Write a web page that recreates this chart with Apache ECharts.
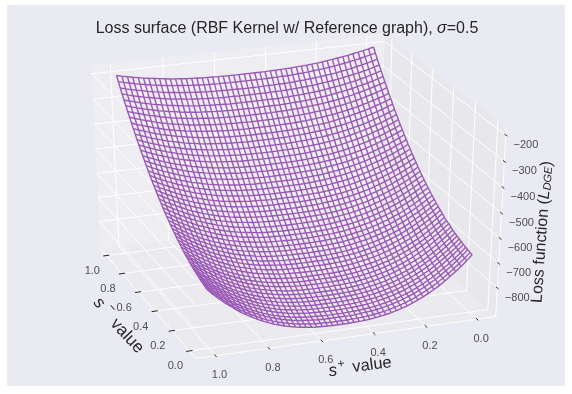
<!DOCTYPE html>
<html>
<head>
<meta charset="utf-8">
<style>html,body{margin:0;padding:0;background:#fff}#chart{width:572px;height:394px}</style>
<script src="https://cdn.jsdelivr.net/npm/echarts@6/dist/echarts.min.js"></script>
</head>
<body>
<div id="chart"></div>
<script>
// both s- and s+ run over this grid
const sGrid = [0, 0.02, 0.041, 0.061, 0.082, 0.102, 0.122, 0.143, 0.163, 0.184, 0.204, 0.224, 0.245, 0.265, 0.286, 0.306, 0.327, 0.347, 0.367, 0.388, 0.408, 0.429, 0.449, 0.469, 0.49, 0.51, 0.531, 0.551, 0.571, 0.592, 0.612, 0.633, 0.653, 0.673, 0.694, 0.714, 0.735, 0.755, 0.776, 0.796, 0.816, 0.837, 0.857, 0.878, 0.898, 0.918, 0.939, 0.959, 0.98, 1];
// one row per s- value, one column per s+ value
const loss = [
[-683,-704,-724,-742,-759,-775,-790,-804,-816,-828,-838,-847,-856,-863,-870,-875,-880,-884,-887,-890,-892,-893,-894,-895,-895,-895,-895,-894,-893,-892,-890,-887,-884,-880,-875,-870,-863,-856,-847,-838,-828,-816,-804,-790,-775,-759,-742,-724,-704,-683],
[-681,-702,-721,-739,-756,-772,-786,-800,-812,-823,-834,-843,-851,-858,-865,-870,-875,-879,-882,-885,-887,-888,-889,-890,-890,-890,-890,-889,-888,-887,-885,-882,-879,-875,-870,-865,-858,-851,-843,-834,-823,-812,-800,-786,-772,-756,-739,-721,-702,-681],
[-678,-698,-717,-735,-752,-767,-782,-795,-807,-818,-828,-837,-845,-852,-859,-864,-869,-873,-876,-878,-880,-882,-883,-883,-883,-883,-883,-883,-882,-880,-878,-876,-873,-869,-864,-859,-852,-845,-837,-828,-818,-807,-795,-782,-767,-752,-735,-717,-698,-678],
[-676,-696,-715,-732,-749,-764,-778,-791,-803,-814,-824,-833,-841,-848,-854,-859,-864,-868,-871,-873,-875,-876,-877,-878,-878,-878,-878,-877,-876,-875,-873,-871,-868,-864,-859,-854,-848,-841,-833,-824,-814,-803,-791,-778,-764,-749,-732,-715,-696,-676],
[-672,-692,-710,-727,-744,-759,-772,-785,-797,-808,-817,-826,-834,-841,-847,-852,-857,-861,-864,-866,-868,-869,-870,-871,-871,-871,-871,-870,-869,-868,-866,-864,-861,-857,-852,-847,-841,-834,-826,-817,-808,-797,-785,-772,-759,-744,-727,-710,-692,-672],
[-669,-688,-707,-723,-739,-754,-768,-780,-792,-802,-812,-820,-828,-835,-841,-846,-851,-854,-857,-860,-862,-863,-864,-864,-865,-865,-864,-864,-863,-862,-860,-857,-854,-851,-846,-841,-835,-828,-820,-812,-802,-792,-780,-768,-754,-739,-723,-707,-688,-669],
[-665,-684,-702,-719,-734,-749,-762,-774,-786,-796,-805,-814,-822,-828,-834,-839,-844,-847,-850,-853,-854,-856,-857,-857,-857,-857,-857,-857,-856,-854,-853,-850,-847,-844,-839,-834,-828,-822,-814,-805,-796,-786,-774,-762,-749,-734,-719,-702,-684,-665],
[-661,-680,-697,-714,-729,-743,-756,-768,-780,-790,-799,-807,-815,-821,-827,-832,-837,-840,-843,-845,-847,-848,-849,-850,-850,-850,-850,-849,-848,-847,-845,-843,-840,-837,-832,-827,-821,-815,-807,-799,-790,-780,-768,-756,-743,-729,-714,-697,-680,-661],
[-657,-675,-693,-709,-724,-738,-751,-763,-774,-784,-793,-801,-808,-815,-820,-825,-829,-833,-836,-838,-840,-841,-842,-842,-843,-843,-842,-842,-841,-840,-838,-836,-833,-829,-825,-820,-815,-808,-801,-793,-784,-774,-763,-751,-738,-724,-709,-693,-675,-657],
[-652,-670,-687,-703,-718,-731,-744,-756,-766,-776,-785,-793,-800,-807,-812,-817,-821,-825,-828,-830,-832,-833,-834,-834,-834,-834,-834,-834,-833,-832,-830,-828,-825,-821,-817,-812,-807,-800,-793,-785,-776,-766,-756,-744,-731,-718,-703,-687,-670,-652],
[-647,-665,-681,-697,-711,-725,-737,-749,-759,-769,-778,-786,-793,-799,-804,-809,-813,-817,-820,-822,-823,-825,-825,-826,-826,-826,-826,-825,-825,-823,-822,-820,-817,-813,-809,-804,-799,-793,-786,-778,-769,-759,-749,-737,-725,-711,-697,-681,-665,-647],
[-641,-658,-675,-690,-704,-717,-730,-741,-751,-761,-769,-777,-784,-790,-796,-800,-804,-808,-810,-812,-814,-815,-816,-816,-817,-817,-816,-816,-815,-814,-812,-810,-808,-804,-800,-796,-790,-784,-777,-769,-761,-751,-741,-730,-717,-704,-690,-675,-658,-641],
[-636,-653,-669,-684,-698,-711,-723,-734,-744,-753,-762,-770,-776,-782,-788,-792,-796,-799,-802,-804,-806,-807,-808,-808,-808,-808,-808,-808,-807,-806,-804,-802,-799,-796,-792,-788,-782,-776,-770,-762,-753,-744,-734,-723,-711,-698,-684,-669,-653,-636],
[-630,-647,-662,-677,-691,-704,-715,-726,-736,-745,-754,-761,-768,-774,-779,-783,-787,-790,-793,-795,-797,-798,-799,-799,-799,-799,-799,-799,-798,-797,-795,-793,-790,-787,-783,-779,-774,-768,-761,-754,-745,-736,-726,-715,-704,-691,-677,-662,-647,-630],
[-623,-639,-655,-669,-683,-695,-707,-717,-727,-736,-744,-751,-758,-764,-769,-773,-777,-780,-783,-785,-786,-787,-788,-789,-789,-789,-789,-788,-787,-786,-785,-783,-780,-777,-773,-769,-764,-758,-751,-744,-736,-727,-717,-707,-695,-683,-669,-655,-639,-623],
[-616,-632,-647,-661,-674,-687,-698,-708,-718,-727,-735,-742,-748,-754,-759,-763,-767,-770,-773,-775,-776,-777,-778,-778,-778,-778,-778,-778,-777,-776,-775,-773,-770,-767,-763,-759,-754,-748,-742,-735,-727,-718,-708,-698,-687,-674,-661,-647,-632,-616],
[-609,-625,-640,-653,-666,-678,-689,-700,-709,-717,-725,-732,-739,-744,-749,-753,-757,-760,-762,-764,-766,-767,-768,-768,-768,-768,-768,-768,-767,-766,-764,-762,-760,-757,-753,-749,-744,-739,-732,-725,-717,-709,-700,-689,-678,-666,-653,-640,-625,-609],
[-602,-617,-632,-645,-658,-670,-681,-691,-700,-708,-716,-723,-729,-734,-739,-743,-747,-750,-752,-754,-756,-757,-758,-758,-758,-758,-758,-758,-757,-756,-754,-752,-750,-747,-743,-739,-734,-729,-723,-716,-708,-700,-691,-681,-670,-658,-645,-632,-617,-602],
[-594,-609,-623,-637,-649,-660,-671,-681,-690,-698,-705,-712,-718,-724,-728,-732,-736,-739,-741,-743,-744,-745,-746,-746,-747,-747,-746,-746,-745,-744,-743,-741,-739,-736,-732,-728,-724,-718,-712,-705,-698,-690,-681,-671,-660,-649,-637,-623,-609,-594],
[-586,-601,-615,-628,-640,-651,-661,-671,-680,-688,-695,-702,-708,-713,-717,-721,-725,-728,-730,-732,-733,-735,-735,-735,-735,-735,-735,-735,-735,-733,-732,-730,-728,-725,-721,-717,-713,-708,-702,-695,-688,-680,-671,-661,-651,-640,-628,-615,-601,-586],
[-578,-592,-606,-619,-631,-642,-652,-661,-670,-677,-685,-691,-697,-702,-706,-710,-714,-716,-719,-720,-722,-723,-723,-724,-724,-724,-724,-723,-723,-722,-720,-719,-716,-714,-710,-706,-702,-697,-691,-685,-677,-670,-661,-652,-642,-631,-619,-606,-592,-578],
[-569,-583,-596,-609,-620,-631,-641,-650,-659,-666,-673,-680,-685,-690,-695,-698,-702,-704,-706,-708,-709,-710,-711,-712,-712,-712,-712,-711,-710,-709,-708,-706,-704,-702,-698,-695,-690,-685,-680,-673,-666,-659,-650,-641,-631,-620,-609,-596,-583,-569],
[-560,-574,-587,-599,-610,-621,-630,-639,-647,-655,-662,-668,-673,-678,-683,-686,-689,-692,-694,-696,-697,-698,-699,-699,-699,-699,-699,-699,-698,-697,-696,-694,-692,-689,-686,-683,-678,-673,-668,-662,-655,-647,-639,-630,-621,-610,-599,-587,-574,-560],
[-551,-564,-577,-589,-600,-610,-620,-628,-636,-644,-650,-656,-662,-666,-671,-674,-677,-680,-682,-684,-685,-686,-687,-687,-687,-687,-687,-687,-686,-685,-684,-682,-680,-677,-674,-671,-666,-662,-656,-650,-644,-636,-628,-620,-610,-600,-589,-577,-564,-551],
[-541,-554,-566,-578,-589,-599,-608,-616,-624,-631,-638,-644,-649,-654,-658,-661,-664,-667,-669,-670,-672,-673,-673,-674,-674,-674,-674,-673,-673,-672,-670,-669,-667,-664,-661,-658,-654,-649,-644,-638,-631,-624,-616,-608,-599,-589,-578,-566,-554,-541],
[-531,-544,-556,-567,-578,-587,-596,-605,-612,-619,-626,-631,-636,-641,-645,-648,-651,-654,-655,-657,-658,-659,-660,-660,-660,-660,-660,-660,-659,-658,-657,-655,-654,-651,-648,-645,-641,-636,-631,-626,-619,-612,-605,-596,-587,-578,-567,-556,-544,-531],
[-521,-534,-545,-556,-566,-576,-585,-593,-600,-607,-613,-619,-624,-628,-632,-635,-638,-640,-642,-644,-645,-646,-647,-647,-647,-647,-647,-647,-646,-645,-644,-642,-640,-638,-635,-632,-628,-624,-619,-613,-607,-600,-593,-585,-576,-566,-556,-545,-534,-521],
[-510,-522,-534,-544,-554,-563,-572,-580,-587,-594,-600,-605,-610,-614,-618,-621,-624,-626,-628,-630,-631,-632,-632,-633,-633,-633,-633,-632,-632,-631,-630,-628,-626,-624,-621,-618,-614,-610,-605,-600,-594,-587,-580,-572,-563,-554,-544,-534,-522,-510],
[-499,-511,-522,-532,-542,-551,-559,-567,-574,-580,-586,-592,-596,-600,-604,-607,-610,-612,-614,-616,-617,-618,-618,-618,-618,-618,-618,-618,-618,-617,-616,-614,-612,-610,-607,-604,-600,-596,-592,-586,-580,-574,-567,-559,-551,-542,-532,-522,-511,-499],
[-488,-500,-510,-520,-530,-539,-547,-554,-561,-567,-573,-578,-583,-587,-590,-593,-596,-598,-600,-601,-602,-603,-604,-604,-604,-604,-604,-604,-603,-602,-601,-600,-598,-596,-593,-590,-587,-583,-578,-573,-567,-561,-554,-547,-539,-530,-520,-510,-500,-488],
[-476,-487,-498,-507,-517,-525,-533,-540,-547,-553,-558,-563,-568,-572,-575,-578,-581,-583,-585,-586,-587,-588,-589,-589,-589,-589,-589,-589,-588,-587,-586,-585,-583,-581,-578,-575,-572,-568,-563,-558,-553,-547,-540,-533,-525,-517,-507,-498,-487,-476],
[-464,-475,-485,-495,-503,-512,-519,-526,-533,-539,-544,-549,-553,-557,-560,-563,-566,-568,-569,-571,-572,-573,-573,-573,-574,-574,-573,-573,-573,-572,-571,-569,-568,-566,-563,-560,-557,-553,-549,-544,-539,-533,-526,-519,-512,-503,-495,-485,-475,-464],
[-452,-463,-472,-482,-490,-498,-506,-512,-519,-524,-530,-534,-538,-542,-545,-548,-551,-553,-554,-556,-557,-557,-558,-558,-558,-558,-558,-558,-557,-557,-556,-554,-553,-551,-548,-545,-542,-538,-534,-530,-524,-519,-512,-506,-498,-490,-482,-472,-463,-452],
[-439,-449,-459,-468,-476,-484,-491,-498,-504,-509,-514,-519,-523,-526,-529,-532,-535,-537,-538,-539,-540,-541,-542,-542,-542,-542,-542,-542,-541,-540,-539,-538,-537,-535,-532,-529,-526,-523,-519,-514,-509,-504,-498,-491,-484,-476,-468,-459,-449,-439],
[-426,-436,-445,-454,-462,-469,-476,-483,-489,-494,-499,-503,-507,-511,-514,-516,-518,-520,-522,-523,-524,-525,-525,-526,-526,-526,-526,-525,-525,-524,-523,-522,-520,-518,-516,-514,-511,-507,-503,-499,-494,-489,-483,-476,-469,-462,-454,-445,-436,-426],
[-413,-423,-431,-440,-448,-455,-462,-468,-473,-479,-483,-488,-491,-495,-498,-500,-503,-504,-506,-507,-508,-509,-509,-509,-509,-509,-509,-509,-509,-508,-507,-506,-504,-503,-500,-498,-495,-491,-488,-483,-479,-473,-468,-462,-455,-448,-440,-431,-423,-413],
[-399,-408,-417,-425,-432,-439,-446,-452,-457,-462,-467,-471,-475,-478,-481,-483,-485,-487,-489,-490,-491,-491,-492,-492,-492,-492,-492,-492,-491,-491,-490,-489,-487,-485,-483,-481,-478,-475,-471,-467,-462,-457,-452,-446,-439,-432,-425,-417,-408,-399],
[-385,-394,-402,-410,-417,-424,-430,-436,-441,-446,-451,-454,-458,-461,-464,-466,-468,-470,-471,-473,-473,-474,-474,-475,-475,-475,-475,-474,-474,-473,-473,-471,-470,-468,-466,-464,-461,-458,-454,-451,-446,-441,-436,-430,-424,-417,-410,-402,-394,-385],
[-371,-380,-388,-395,-402,-409,-415,-420,-425,-430,-434,-438,-441,-444,-447,-449,-451,-453,-454,-455,-456,-457,-457,-457,-457,-457,-457,-457,-457,-456,-455,-454,-453,-451,-449,-447,-444,-441,-438,-434,-430,-425,-420,-415,-409,-402,-395,-388,-380,-371],
[-356,-364,-372,-379,-386,-392,-398,-403,-408,-413,-417,-420,-424,-427,-429,-431,-433,-435,-436,-437,-438,-439,-439,-439,-439,-439,-439,-439,-439,-438,-437,-436,-435,-433,-431,-429,-427,-424,-420,-417,-413,-408,-403,-398,-392,-386,-379,-372,-364,-356],
[-341,-349,-356,-363,-370,-376,-381,-386,-391,-395,-399,-403,-406,-409,-411,-413,-415,-417,-418,-419,-420,-420,-421,-421,-421,-421,-421,-421,-420,-420,-419,-418,-417,-415,-413,-411,-409,-406,-403,-399,-395,-391,-386,-381,-376,-370,-363,-356,-349,-341],
[-326,-334,-341,-347,-354,-359,-365,-370,-374,-378,-382,-385,-388,-391,-393,-395,-397,-398,-400,-401,-401,-402,-402,-402,-402,-402,-402,-402,-402,-401,-401,-400,-398,-397,-395,-393,-391,-388,-385,-382,-378,-374,-370,-365,-359,-354,-347,-341,-334,-326],
[-310,-317,-324,-330,-336,-342,-347,-352,-356,-360,-363,-367,-370,-372,-374,-376,-378,-379,-380,-381,-382,-382,-383,-383,-383,-383,-383,-383,-382,-382,-381,-380,-379,-378,-376,-374,-372,-370,-367,-363,-360,-356,-352,-347,-342,-336,-330,-324,-317,-310],
[-294,-301,-307,-313,-319,-324,-329,-334,-338,-342,-345,-348,-351,-353,-355,-357,-359,-360,-361,-362,-363,-363,-364,-364,-364,-364,-364,-364,-363,-363,-362,-361,-360,-359,-357,-355,-353,-351,-348,-345,-342,-338,-334,-329,-324,-319,-313,-307,-301,-294],
[-278,-285,-291,-297,-302,-307,-312,-316,-320,-323,-327,-330,-332,-335,-337,-338,-340,-341,-342,-343,-344,-344,-344,-344,-345,-345,-344,-344,-344,-344,-343,-342,-341,-340,-338,-337,-335,-332,-330,-327,-323,-320,-316,-312,-307,-302,-297,-291,-285,-278],
[-262,-268,-274,-280,-285,-290,-294,-298,-302,-305,-308,-311,-314,-316,-318,-319,-321,-322,-323,-324,-325,-325,-325,-325,-325,-325,-325,-325,-325,-325,-324,-323,-322,-321,-319,-318,-316,-314,-311,-308,-305,-302,-298,-294,-290,-285,-280,-274,-268,-262],
[-245,-251,-257,-262,-267,-271,-275,-279,-283,-286,-289,-291,-294,-296,-298,-299,-301,-302,-303,-304,-304,-304,-305,-305,-305,-305,-305,-305,-304,-304,-304,-303,-302,-301,-299,-298,-296,-294,-291,-289,-286,-283,-279,-275,-271,-267,-262,-257,-251,-245],
[-228,-234,-239,-244,-248,-253,-257,-260,-264,-267,-269,-272,-274,-276,-278,-279,-281,-282,-283,-283,-284,-284,-284,-285,-285,-285,-285,-284,-284,-284,-283,-283,-282,-281,-279,-278,-276,-274,-272,-269,-267,-264,-260,-257,-253,-248,-244,-239,-234,-228],
[-210,-215,-220,-225,-229,-233,-237,-240,-244,-246,-249,-251,-253,-255,-257,-258,-260,-261,-261,-262,-262,-263,-263,-263,-263,-263,-263,-263,-263,-262,-262,-261,-261,-260,-258,-257,-255,-253,-251,-249,-246,-244,-240,-237,-233,-229,-225,-220,-215,-210],
[-192,-197,-202,-206,-210,-214,-217,-220,-223,-226,-229,-231,-233,-235,-236,-237,-239,-239,-240,-241,-241,-242,-242,-242,-242,-242,-242,-242,-242,-241,-241,-240,-239,-239,-237,-236,-235,-233,-231,-229,-226,-223,-220,-217,-214,-210,-206,-202,-197,-192],
];
const sTicks = [0, 0.2, 0.4, 0.6, 0.8, 1];
const zTicks = [-800, -700, -600, -500, -400, -300, -200];

const sLim = [-0.0729, 1.0729];
const zLim = [-918, -168];
const elev = 30 * Math.PI / 180;
const azim = 160 * Math.PI / 180;
const dist = 10;

// same camera as mplot3d: world goes to the unit cube, then perspective
const n = [Math.cos(elev) * Math.cos(azim), Math.cos(elev) * Math.sin(azim), Math.sin(elev)];
const u = [-Math.sin(azim), Math.cos(azim), 0];
const v = [-Math.sin(elev) * Math.cos(azim), -Math.sin(elev) * Math.sin(azim), Math.cos(elev)];
function project(sm, sp, z) {
  const p = [
    (sm - sLim[0]) / (sLim[1] - sLim[0]) - 0.5,
    (sp - sLim[0]) / (sLim[1] - sLim[0]) - 0.5,
    (z - zLim[0]) / (zLim[1] - zLim[0]) - 0.5,
  ];
  const dot = a => a[0] * p[0] + a[1] * p[1] + a[2] * p[2];
  const w = dist - dot(n);
  return [dot(u) / w, dot(v) / w];
}

function lineSeries(points, color, width, z) {
  return {
    type: 'line', data: points, showSymbol: false, silent: true, animation: false, z,
    lineStyle: { color, width }, clip: false,
  };
}

const [sLo, sHi] = sLim;
const [zLo, zHi] = zLim;
const series = [];

// panes
const panes = [
  { color: '#EEEEF2', pts: [[sHi, sLo, zLo], [sHi, sHi, zLo], [sHi, sHi, zHi], [sHi, sLo, zHi]] },
  { color: '#E8E8EC', pts: [[sLo, sLo, zLo], [sHi, sLo, zLo], [sHi, sLo, zHi], [sLo, sLo, zHi]] },
  { color: '#EBEBEF', pts: [[sLo, sLo, zLo], [sHi, sLo, zLo], [sHi, sHi, zLo], [sLo, sHi, zLo]] },
];
series.push({
  type: 'custom', silent: true, animation: false, z: 1, clip: false,
  data: panes.map((p, i) => i),
  encode: { x: [], y: [] },
  renderItem(params, api) {
    const pane = panes[params.dataIndex];
    return {
      type: 'polygon',
      shape: { points: pane.pts.map(q => api.coord(project(q[0], q[1], q[2]))) },
      style: { fill: pane.color },
    };
  },
});

// grid lines
sTicks.forEach(t => {
  series.push(lineSeries([project(t, sHi, zLo), project(t, sLo, zLo), project(t, sLo, zHi)], '#fff', 1, 2));
  series.push(lineSeries([project(sLo, t, zLo), project(sHi, t, zLo), project(sHi, t, zHi)], '#fff', 1, 2));
});
zTicks.forEach(t => {
  series.push(lineSeries([project(sLo, sHi, t), project(sHi, sHi, t), project(sHi, sLo, t), project(sLo, sLo, t)], '#fff', 1, 2));
});
// axis edges
series.push(lineSeries([project(sHi, sHi, zLo), project(sLo, sHi, zLo), project(sLo, sLo, zLo), project(sLo, sLo, zHi)], '#fff', 1, 2));

// tick marks
const tk = 0.012;
sTicks.forEach(t => {
  series.push(lineSeries([project(t, sHi + tk, zLo), project(t, sHi - tk, zLo)], '#262626', 1, 3));
  series.push(lineSeries([project(sLo - tk, t, zLo), project(sLo + tk, t, zLo)], '#262626', 1, 3));
});
zTicks.forEach(t => {
  series.push(lineSeries([project(sLo - tk, sLo, t), project(sLo + tk, sLo, t)], '#262626', 1, 3));
});

// wireframe
sGrid.forEach((sm, i) => {
  series.push(lineSeries(sGrid.map((sp, j) => project(sm, sp, loss[i][j])), '#9b59b6', 1.4, 5));
});
sGrid.forEach((sp, j) => {
  series.push(lineSeries(sGrid.map((sm, i) => project(sm, sp, loss[i][j])), '#9b59b6', 1.4, 5));
});

// tick labels
function labelSeries(points, texts, offset) {
  return {
    type: 'scatter', data: points, symbolSize: 0, silent: true, animation: false, z: 6, clip: false,
    label: {
      show: true, position: 'inside', offset, fontSize: 11, color: '#262626',
      fontFamily: 'Liberation Sans',
      formatter: p => texts[p.dataIndex],
    },
  };
}
series.push(labelSeries(sTicks.map(t => project(t, sHi, zLo)), sTicks.map(t => t.toFixed(1)), [-14, 15.5]));
series.push(labelSeries(sTicks.map(t => project(sLo, t, zLo)), sTicks.map(t => t.toFixed(1)), [4, 19.5]));
series.push(labelSeries(zTicks.map(t => project(sLo, sLo, t)), zTicks.map(t => '\u2212' + Math.abs(t)), [20, 10]));

function axisText(text, x, y, deg, fontSize, fontStyle) {
  return {
    type: 'text', x, y, rotation: deg * Math.PI / 180, z: 10,
    style: {
      text, align: 'center', verticalAlign: 'middle', fill: '#262626',
      fontFamily: 'Liberation Sans', fontSize, fontStyle: fontStyle || 'normal',
    },
  };
}

const option = {
  animation: false,
  backgroundColor: '#fff',
  title: {
    left: 282, top: 16, textAlign: 'center',
    text: '{a|Loss surface (RBF Kernel w/ Reference graph), }{s|\u03c3}{a|=0.5}',
    textStyle: {
      fontWeight: 'normal',
      rich: {
        a: { fontFamily: 'Liberation Sans', fontSize: 16, fontWeight: 'normal', color: '#262626' },
        s: { fontFamily: 'Liberation Sans', fontSize: 16, fontWeight: 'normal', fontStyle: 'italic', color: '#262626' },
      },
    },
  },
  grid: { left: 7, top: 5, width: 558, height: 381, show: true, backgroundColor: '#EAEAF2', borderWidth: 0 },
  xAxis: { type: 'value', min: -0.09066, max: 0.0861, show: false },
  yAxis: { type: 'value', min: -0.0905, max: 0.0863, show: false },
  series,
  graphic: [
    axisText('s', 99, 303, -48, 17, 'italic'),
    axisText('\u2212', 112, 308, -48, 12),
    axisText('value', 127, 336, -47, 17),
    axisText('s', 333, 371, 7, 17, 'italic'),
    axisText('+', 341, 364, 7, 12),
    axisText('value', 372, 365, 7, 16.5),
    {
      type: 'text', x: 542, y: 232, rotation: 86 * Math.PI / 180, z: 10,
      style: {
        text: '{a|Loss function (}{i|L}{d|DGE}{a|)}', align: 'center', verticalAlign: 'middle',
        rich: {
          a: { fontFamily: 'Liberation Sans', fontSize: 16, fill: '#262626' },
          i: { fontFamily: 'Liberation Sans', fontSize: 16, fontStyle: 'italic', fill: '#262626' },
          d: { fontFamily: 'Liberation Sans', fontSize: 11, fontStyle: 'italic', verticalAlign: 'bottom', fill: '#262626' },
        },
      },
    },
  ],
};

const myChart = echarts.init(document.getElementById('chart'));
myChart.setOption(option);
</script>
</body>
</html>
